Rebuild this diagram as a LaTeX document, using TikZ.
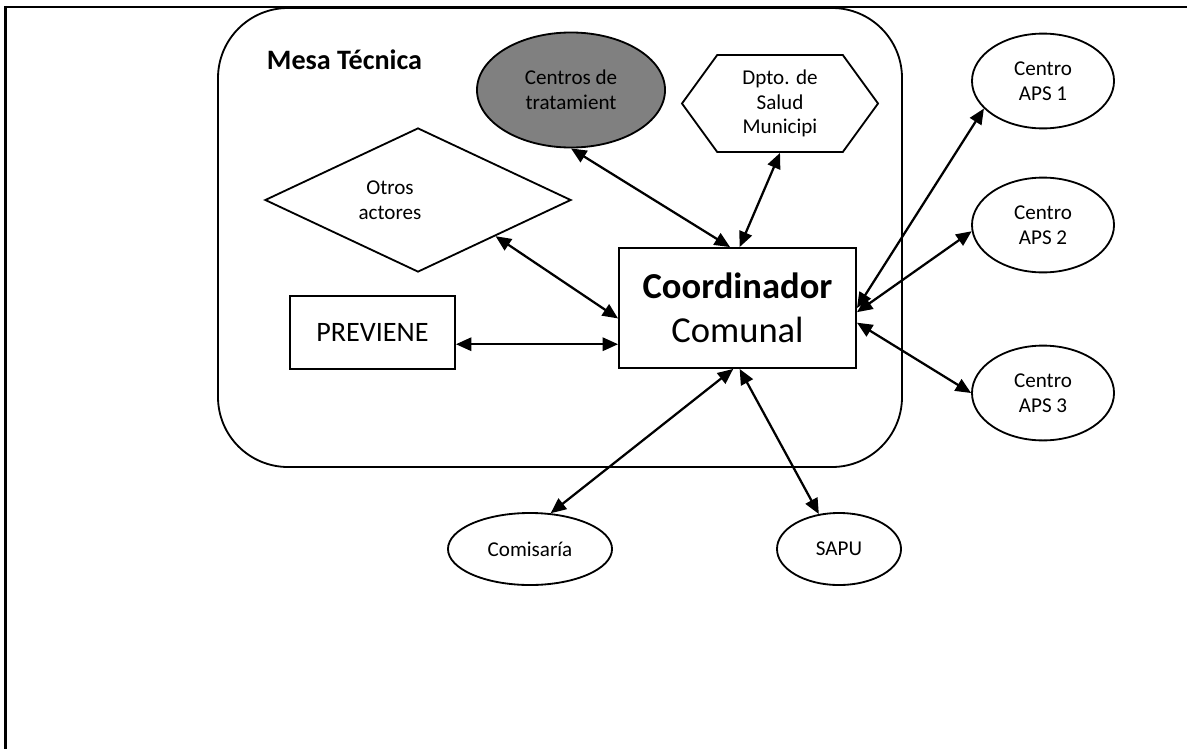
\documentclass[tikz,border=0pt]{standalone}
\usepackage{fontspec}
\setmainfont{Carlito}
\usetikzlibrary{shapes,arrows.meta}

\begin{document}
\begin{tikzpicture}[x=0.025cm,y=-0.025cm,
    caja/.style={draw, line width=1.3pt, inner sep=0pt},
    elipse/.style={caja, ellipse, minimum width=3.55cm, minimum height=2.37cm},
    etiq/.style={font=\fontsize{15}{17.5}\selectfont, align=center},
    flecha/.style={{Triangle[length=11pt,width=9.5pt]}-{Triangle[length=11pt,width=9.5pt]}, line width=1.6pt}]

% marco de la hoja
\useasboundingbox (0,0) rectangle (1187,749);
\draw[line width=2pt] (1187,7) -- (5.5,7);
\draw[line width=2.8pt] (5.5,6) -- (5.5,749);

% mesa tecnica
\draw[line width=1.3pt, rounded corners=1.75cm] (218,8) rectangle (902,467);
\node[anchor=west, font=\fontsize{20}{24}\selectfont\bfseries] (mesa) at (262,60) {Mesa Técnica};

\node[caja, minimum width=5.925cm, minimum height=3cm, font=\fontsize{26}{31.3}\selectfont, align=center] (coord) at (737.5,308) {\textbf{Coordinador}\\Comunal};
\node[caja, minimum width=4.125cm, minimum height=1.825cm, font=\fontsize{20}{24}\selectfont] (prev) at (372.5,332.5) {PREVIENE};
\node[caja, diamond, minimum width=7.65cm, minimum height=3.6cm, label={[etiq,xshift=-0.7cm]center:{Otros\\actores}}] (otros) at (418,200) {};
\node[caja, ellipse, fill=black!50, minimum width=4.7cm, minimum height=2.875cm, etiq] (centros) at (571,90) {Centros de\\tratamient};
\node[caja, signal, signal to=west and east, signal pointer angle=108, minimum width=4.9cm, minimum height=2.425cm, etiq] (dpto) at (780,103.5) {Dpto. de\\Salud\\Municipi};

% centros APS y externos
\foreach \n/\y in {1/81,2/225,3/393}
    \node[elipse, etiq] (aps\n) at (1043,\y) {Centro\\APS \n};
\node[elipse, etiq, minimum width=4.1cm, minimum height=1.8cm] (comis) at (530,549) {Comisaría};
\node[elipse, etiq, minimum width=3.1cm, minimum height=1.8cm] (sapu) at (839,549) {SAPU};

% conexiones
\draw[flecha] (centros.south) -- (coord.97);
\draw[flecha] (dpto.south) -- (coord.88);
\draw[flecha] (otros.-25) -- (coord.185);
\draw[flecha] (prev.-8) -- (prev.-8 -| coord.west);
\draw[flecha] (coord.0) -- (aps1.205);
\draw[flecha] (coord.-2) -- (aps2.185);
\draw[flecha] (coord.-7) -- (aps3.west);
\draw[flecha] (coord.266) -- (comis.60);
\draw[flecha] (coord.272) -- (sapu.120);
\end{tikzpicture}
\end{document}
